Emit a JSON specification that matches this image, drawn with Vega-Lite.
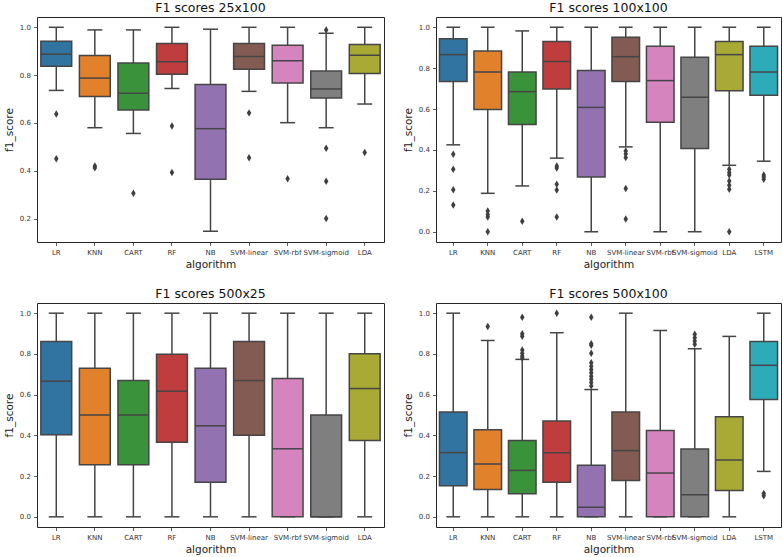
{
  "$schema": "https://vega.github.io/schema/vega-lite/v6.json",
  "background": "white",
  "padding": {"left": 3, "top": 1, "right": 3, "bottom": 3},
  "datasets": {
    "summary": [
      {"panel": "25x100", "algorithm": "LR", "lower": 0.736, "q1": 0.8375, "median": 0.8875, "q3": 0.942, "upper": 1.0},
      {"panel": "25x100", "algorithm": "KNN", "lower": 0.58, "q1": 0.711, "median": 0.7875, "q3": 0.882, "upper": 0.989},
      {"panel": "25x100", "algorithm": "CART", "lower": 0.556, "q1": 0.654, "median": 0.724, "q3": 0.851, "upper": 0.989},
      {"panel": "25x100", "algorithm": "RF", "lower": 0.744, "q1": 0.804, "median": 0.856, "q3": 0.932, "upper": 1.0},
      {"panel": "25x100", "algorithm": "NB", "lower": 0.147, "q1": 0.364, "median": 0.576, "q3": 0.761, "upper": 0.992},
      {"panel": "25x100", "algorithm": "SVM-linear", "lower": 0.732, "q1": 0.824, "median": 0.878, "q3": 0.932, "upper": 1.0},
      {"panel": "25x100", "algorithm": "SVM-rbf", "lower": 0.601, "q1": 0.767, "median": 0.86, "q3": 0.925, "upper": 1.0},
      {"panel": "25x100", "algorithm": "SVM-sigmoid", "lower": 0.58, "q1": 0.704, "median": 0.742, "q3": 0.817, "upper": 0.975},
      {"panel": "25x100", "algorithm": "LDA", "lower": 0.679, "q1": 0.807, "median": 0.883, "q3": 0.928, "upper": 1.0},

      {"panel": "100x100", "algorithm": "LR", "lower": 0.425, "q1": 0.735, "median": 0.866, "q3": 0.944, "upper": 1.0},
      {"panel": "100x100", "algorithm": "KNN", "lower": 0.188, "q1": 0.598, "median": 0.781, "q3": 0.884, "upper": 1.0},
      {"panel": "100x100", "algorithm": "CART", "lower": 0.224, "q1": 0.525, "median": 0.685, "q3": 0.781, "upper": 0.982},
      {"panel": "100x100", "algorithm": "RF", "lower": 0.36, "q1": 0.698, "median": 0.832, "q3": 0.93, "upper": 1.0},
      {"panel": "100x100", "algorithm": "NB", "lower": 0.0, "q1": 0.268, "median": 0.608, "q3": 0.788, "upper": 1.0},
      {"panel": "100x100", "algorithm": "SVM-linear", "lower": 0.415, "q1": 0.735, "median": 0.856, "q3": 0.951, "upper": 1.0},
      {"panel": "100x100", "algorithm": "SVM-rbf", "lower": 0.0, "q1": 0.536, "median": 0.739, "q3": 0.907, "upper": 1.0},
      {"panel": "100x100", "algorithm": "SVM-sigmoid", "lower": 0.0, "q1": 0.407, "median": 0.658, "q3": 0.853, "upper": 1.0},
      {"panel": "100x100", "algorithm": "LDA", "lower": 0.325, "q1": 0.69, "median": 0.866, "q3": 0.93, "upper": 1.0},
      {"panel": "100x100", "algorithm": "LSTM", "lower": 0.345, "q1": 0.667, "median": 0.781, "q3": 0.907, "upper": 1.0},

      {"panel": "500x25", "algorithm": "LR", "lower": 0.0, "q1": 0.403, "median": 0.666, "q3": 0.861, "upper": 1.0},
      {"panel": "500x25", "algorithm": "KNN", "lower": 0.0, "q1": 0.256, "median": 0.5, "q3": 0.729, "upper": 1.0},
      {"panel": "500x25", "algorithm": "CART", "lower": 0.0, "q1": 0.256, "median": 0.5, "q3": 0.669, "upper": 1.0},
      {"panel": "500x25", "algorithm": "RF", "lower": 0.0, "q1": 0.366, "median": 0.617, "q3": 0.798, "upper": 1.0},
      {"panel": "500x25", "algorithm": "NB", "lower": 0.0, "q1": 0.17, "median": 0.447, "q3": 0.729, "upper": 1.0},
      {"panel": "500x25", "algorithm": "SVM-linear", "lower": 0.0, "q1": 0.4, "median": 0.669, "q3": 0.861, "upper": 1.0},
      {"panel": "500x25", "algorithm": "SVM-rbf", "lower": 0.0, "q1": 0.0, "median": 0.334, "q3": 0.679, "upper": 1.0},
      {"panel": "500x25", "algorithm": "SVM-sigmoid", "lower": 0.0, "q1": 0.0, "median": 0.0, "q3": 0.5, "upper": 1.0},
      {"panel": "500x25", "algorithm": "LDA", "lower": 0.0, "q1": 0.375, "median": 0.63, "q3": 0.801, "upper": 1.0},

      {"panel": "500x100", "algorithm": "LR", "lower": 0.0, "q1": 0.153, "median": 0.315, "q3": 0.515, "upper": 1.0},
      {"panel": "500x100", "algorithm": "KNN", "lower": 0.0, "q1": 0.134, "median": 0.259, "q3": 0.427, "upper": 0.866},
      {"panel": "500x100", "algorithm": "CART", "lower": 0.0, "q1": 0.113, "median": 0.228, "q3": 0.375, "upper": 0.773},
      {"panel": "500x100", "algorithm": "RF", "lower": 0.0, "q1": 0.17, "median": 0.315, "q3": 0.47, "upper": 0.904},
      {"panel": "500x100", "algorithm": "NB", "lower": 0.0, "q1": 0.0, "median": 0.047, "q3": 0.253, "upper": 0.625},
      {"panel": "500x100", "algorithm": "SVM-linear", "lower": 0.0, "q1": 0.178, "median": 0.325, "q3": 0.515, "upper": 1.0},
      {"panel": "500x100", "algorithm": "SVM-rbf", "lower": 0.0, "q1": 0.0, "median": 0.215, "q3": 0.424, "upper": 0.915},
      {"panel": "500x100", "algorithm": "SVM-sigmoid", "lower": 0.0, "q1": 0.0, "median": 0.108, "q3": 0.333, "upper": 0.825},
      {"panel": "500x100", "algorithm": "LDA", "lower": 0.0, "q1": 0.129, "median": 0.279, "q3": 0.491, "upper": 0.886},
      {"panel": "500x100", "algorithm": "LSTM", "lower": 0.223, "q1": 0.576, "median": 0.744, "q3": 0.861, "upper": 1.0}
    ],
    "outliers": [
      {"panel": "25x100", "algorithm": "LR", "f1_score": 0.6375},
      {"panel": "25x100", "algorithm": "LR", "f1_score": 0.45},
      {"panel": "25x100", "algorithm": "KNN", "f1_score": 0.42},
      {"panel": "25x100", "algorithm": "KNN", "f1_score": 0.412},
      {"panel": "25x100", "algorithm": "CART", "f1_score": 0.306},
      {"panel": "25x100", "algorithm": "RF", "f1_score": 0.5875},
      {"panel": "25x100", "algorithm": "RF", "f1_score": 0.393},
      {"panel": "25x100", "algorithm": "SVM-linear", "f1_score": 0.642},
      {"panel": "25x100", "algorithm": "SVM-linear", "f1_score": 0.454},
      {"panel": "25x100", "algorithm": "SVM-rbf", "f1_score": 0.367},
      {"panel": "25x100", "algorithm": "SVM-sigmoid", "f1_score": 0.989},
      {"panel": "25x100", "algorithm": "SVM-sigmoid", "f1_score": 0.494},
      {"panel": "25x100", "algorithm": "SVM-sigmoid", "f1_score": 0.356},
      {"panel": "25x100", "algorithm": "SVM-sigmoid", "f1_score": 0.2},
      {"panel": "25x100", "algorithm": "LDA", "f1_score": 0.476},

      {"panel": "100x100", "algorithm": "LR", "f1_score": 0.379},
      {"panel": "100x100", "algorithm": "LR", "f1_score": 0.306},
      {"panel": "100x100", "algorithm": "LR", "f1_score": 0.206},
      {"panel": "100x100", "algorithm": "LR", "f1_score": 0.131},
      {"panel": "100x100", "algorithm": "KNN", "f1_score": 0.101},
      {"panel": "100x100", "algorithm": "KNN", "f1_score": 0.085},
      {"panel": "100x100", "algorithm": "KNN", "f1_score": 0.072},
      {"panel": "100x100", "algorithm": "KNN", "f1_score": 0.0},
      {"panel": "100x100", "algorithm": "CART", "f1_score": 0.052},
      {"panel": "100x100", "algorithm": "RF", "f1_score": 0.322},
      {"panel": "100x100", "algorithm": "RF", "f1_score": 0.312},
      {"panel": "100x100", "algorithm": "RF", "f1_score": 0.232},
      {"panel": "100x100", "algorithm": "RF", "f1_score": 0.204},
      {"panel": "100x100", "algorithm": "RF", "f1_score": 0.072},
      {"panel": "100x100", "algorithm": "SVM-linear", "f1_score": 0.395},
      {"panel": "100x100", "algorithm": "SVM-linear", "f1_score": 0.38},
      {"panel": "100x100", "algorithm": "SVM-linear", "f1_score": 0.363},
      {"panel": "100x100", "algorithm": "SVM-linear", "f1_score": 0.211},
      {"panel": "100x100", "algorithm": "SVM-linear", "f1_score": 0.062},
      {"panel": "100x100", "algorithm": "LDA", "f1_score": 0.306},
      {"panel": "100x100", "algorithm": "LDA", "f1_score": 0.29},
      {"panel": "100x100", "algorithm": "LDA", "f1_score": 0.278},
      {"panel": "100x100", "algorithm": "LDA", "f1_score": 0.248},
      {"panel": "100x100", "algorithm": "LDA", "f1_score": 0.227},
      {"panel": "100x100", "algorithm": "LDA", "f1_score": 0.208},
      {"panel": "100x100", "algorithm": "LDA", "f1_score": 0.0},
      {"panel": "100x100", "algorithm": "LSTM", "f1_score": 0.278},
      {"panel": "100x100", "algorithm": "LSTM", "f1_score": 0.268},
      {"panel": "100x100", "algorithm": "LSTM", "f1_score": 0.257},

      {"panel": "500x100", "algorithm": "KNN", "f1_score": 0.935},
      {"panel": "500x100", "algorithm": "CART", "f1_score": 0.98},
      {"panel": "500x100", "algorithm": "CART", "f1_score": 0.899},
      {"panel": "500x100", "algorithm": "CART", "f1_score": 0.887},
      {"panel": "500x100", "algorithm": "CART", "f1_score": 0.819},
      {"panel": "500x100", "algorithm": "CART", "f1_score": 0.803},
      {"panel": "500x100", "algorithm": "CART", "f1_score": 0.79},
      {"panel": "500x100", "algorithm": "CART", "f1_score": 0.78},
      {"panel": "500x100", "algorithm": "RF", "f1_score": 1.0},
      {"panel": "500x100", "algorithm": "NB", "f1_score": 0.98},
      {"panel": "500x100", "algorithm": "NB", "f1_score": 0.85},
      {"panel": "500x100", "algorithm": "NB", "f1_score": 0.842},
      {"panel": "500x100", "algorithm": "NB", "f1_score": 0.803},
      {"panel": "500x100", "algorithm": "NB", "f1_score": 0.757},
      {"panel": "500x100", "algorithm": "NB", "f1_score": 0.74},
      {"panel": "500x100", "algorithm": "NB", "f1_score": 0.724},
      {"panel": "500x100", "algorithm": "NB", "f1_score": 0.708},
      {"panel": "500x100", "algorithm": "NB", "f1_score": 0.69},
      {"panel": "500x100", "algorithm": "NB", "f1_score": 0.675},
      {"panel": "500x100", "algorithm": "NB", "f1_score": 0.659},
      {"panel": "500x100", "algorithm": "NB", "f1_score": 0.643},
      {"panel": "500x100", "algorithm": "SVM-sigmoid", "f1_score": 0.896},
      {"panel": "500x100", "algorithm": "SVM-sigmoid", "f1_score": 0.879},
      {"panel": "500x100", "algorithm": "SVM-sigmoid", "f1_score": 0.863},
      {"panel": "500x100", "algorithm": "SVM-sigmoid", "f1_score": 0.847},
      {"panel": "500x100", "algorithm": "LSTM", "f1_score": 0.114},
      {"panel": "500x100", "algorithm": "LSTM", "f1_score": 0.104}
    ]
  },
  "columns": 2,
  "bounds": "flush",
  "spacing": {"row": 61, "column": 52},
  "concat": [
    {
      "title": "F1 scores 25x100",
      "width": 347, "height": 225,
      "layer": [
        {"data": {"name": "summary"}, "transform": [{"filter": "datum.panel == '25x100'"}],
         "mark": {"type": "rule", "color": "#454545", "strokeWidth": 1.5},
         "encoding": {
           "x": {"field": "algorithm", "type": "nominal", "title": "algorithm", "scale": {"domain": ["LR","KNN","CART","RF","NB","SVM-linear","SVM-rbf","SVM-sigmoid","LDA"], "paddingInner": 0.2, "paddingOuter": 0.1}},
           "y": {"field": "lower", "type": "quantitative", "title": "f1_score", "scale": {"domain": [0.102, 1.043], "nice": false, "zero": false}, "axis": {"values": [0.2,0.4,0.6,0.8,1.0], "format": ".1f"}},
           "y2": {"field": "upper"}}},
        {"data": {"name": "summary"}, "transform": [{"filter": "datum.panel == '25x100'"}],
         "mark": {"type": "bar", "stroke": "#454545", "strokeWidth": 1.5},
         "encoding": {
           "x": {"field": "algorithm", "type": "nominal"},
           "y": {"field": "q1", "type": "quantitative", "title": "f1_score"},
           "y2": {"field": "q3"},
           "color": {"field": "algorithm", "type": "nominal", "legend": null, "scale": {"domain": ["LR","KNN","CART","RF","NB","SVM-linear","SVM-rbf","SVM-sigmoid","LDA","LSTM"], "range": ["#3274a1","#e1812c","#3a923a","#c03d3e","#9372b2","#845b53","#d684bd","#7f7f7f","#a9aa35","#2eabb8"]}}}},
        {"data": {"name": "summary"}, "transform": [{"filter": "datum.panel == '25x100'"}],
         "mark": {"type": "tick", "color": "#454545", "thickness": 1.5, "size": 30.8, "opacity": 1},
         "encoding": {"x": {"field": "algorithm", "type": "nominal"}, "y": {"field": "median", "type": "quantitative", "title": "f1_score"}}},
        {"data": {"name": "summary"}, "transform": [{"filter": "datum.panel == '25x100'"}],
         "mark": {"type": "tick", "color": "#454545", "thickness": 1.5, "size": 15, "opacity": 1},
         "encoding": {"x": {"field": "algorithm", "type": "nominal"}, "y": {"field": "lower", "type": "quantitative", "title": "f1_score"}}},
        {"data": {"name": "summary"}, "transform": [{"filter": "datum.panel == '25x100'"}],
         "mark": {"type": "tick", "color": "#454545", "thickness": 1.5, "size": 15, "opacity": 1},
         "encoding": {"x": {"field": "algorithm", "type": "nominal"}, "y": {"field": "upper", "type": "quantitative", "title": "f1_score"}}},
        {"data": {"name": "outliers"}, "transform": [{"filter": "datum.panel == '25x100'"}],
         "mark": {"type": "point", "filled": true, "color": "#3f3f3f", "opacity": 1, "size": 56, "shape": "M0,-1L0.6,0L0,1L-0.6,0Z"},
         "encoding": {"x": {"field": "algorithm", "type": "nominal"}, "y": {"field": "f1_score", "type": "quantitative", "title": "f1_score"}}}
      ]
    },
    {
      "title": "F1 scores 100x100",
      "width": 345, "height": 225,
      "layer": [
        {"data": {"name": "summary"}, "transform": [{"filter": "datum.panel == '100x100'"}],
         "mark": {"type": "rule", "color": "#454545", "strokeWidth": 1.5},
         "encoding": {
           "x": {"field": "algorithm", "type": "nominal", "title": "algorithm", "scale": {"domain": ["LR","KNN","CART","RF","NB","SVM-linear","SVM-rbf","SVM-sigmoid","LDA","LSTM"], "paddingInner": 0.2, "paddingOuter": 0.1}},
           "y": {"field": "lower", "type": "quantitative", "title": "f1_score", "scale": {"domain": [-0.05, 1.05], "nice": false, "zero": false}, "axis": {"values": [0,0.2,0.4,0.6,0.8,1.0], "format": ".1f"}},
           "y2": {"field": "upper"}}},
        {"data": {"name": "summary"}, "transform": [{"filter": "datum.panel == '100x100'"}],
         "mark": {"type": "bar", "stroke": "#454545", "strokeWidth": 1.5},
         "encoding": {
           "x": {"field": "algorithm", "type": "nominal"},
           "y": {"field": "q1", "type": "quantitative", "title": "f1_score"},
           "y2": {"field": "q3"},
           "color": {"field": "algorithm", "type": "nominal", "legend": null}}},
        {"data": {"name": "summary"}, "transform": [{"filter": "datum.panel == '100x100'"}],
         "mark": {"type": "tick", "color": "#454545", "thickness": 1.5, "size": 27.6, "opacity": 1},
         "encoding": {"x": {"field": "algorithm", "type": "nominal"}, "y": {"field": "median", "type": "quantitative", "title": "f1_score"}}},
        {"data": {"name": "summary"}, "transform": [{"filter": "datum.panel == '100x100'"}],
         "mark": {"type": "tick", "color": "#454545", "thickness": 1.5, "size": 13.8, "opacity": 1},
         "encoding": {"x": {"field": "algorithm", "type": "nominal"}, "y": {"field": "lower", "type": "quantitative", "title": "f1_score"}}},
        {"data": {"name": "summary"}, "transform": [{"filter": "datum.panel == '100x100'"}],
         "mark": {"type": "tick", "color": "#454545", "thickness": 1.5, "size": 13.8, "opacity": 1},
         "encoding": {"x": {"field": "algorithm", "type": "nominal"}, "y": {"field": "upper", "type": "quantitative", "title": "f1_score"}}},
        {"data": {"name": "outliers"}, "transform": [{"filter": "datum.panel == '100x100'"}],
         "mark": {"type": "point", "filled": true, "color": "#3f3f3f", "opacity": 1, "size": 56, "shape": "M0,-1L0.6,0L0,1L-0.6,0Z"},
         "encoding": {"x": {"field": "algorithm", "type": "nominal"}, "y": {"field": "f1_score", "type": "quantitative", "title": "f1_score"}}}
      ]
    },
    {
      "title": "F1 scores 500x25",
      "width": 347, "height": 224,
      "layer": [
        {"data": {"name": "summary"}, "transform": [{"filter": "datum.panel == '500x25'"}],
         "mark": {"type": "rule", "color": "#454545", "strokeWidth": 1.5},
         "encoding": {
           "x": {"field": "algorithm", "type": "nominal", "title": "algorithm", "scale": {"domain": ["LR","KNN","CART","RF","NB","SVM-linear","SVM-rbf","SVM-sigmoid","LDA"], "paddingInner": 0.2, "paddingOuter": 0.1}},
           "y": {"field": "lower", "type": "quantitative", "title": "f1_score", "scale": {"domain": [-0.05, 1.05], "nice": false, "zero": false}, "axis": {"values": [0,0.2,0.4,0.6,0.8,1.0], "format": ".1f"}},
           "y2": {"field": "upper"}}},
        {"data": {"name": "summary"}, "transform": [{"filter": "datum.panel == '500x25'"}],
         "mark": {"type": "bar", "stroke": "#454545", "strokeWidth": 1.5},
         "encoding": {
           "x": {"field": "algorithm", "type": "nominal"},
           "y": {"field": "q1", "type": "quantitative", "title": "f1_score"},
           "y2": {"field": "q3"},
           "color": {"field": "algorithm", "type": "nominal", "legend": null}}},
        {"data": {"name": "summary"}, "transform": [{"filter": "datum.panel == '500x25'"}],
         "mark": {"type": "tick", "color": "#454545", "thickness": 1.5, "size": 30.8, "opacity": 1},
         "encoding": {"x": {"field": "algorithm", "type": "nominal"}, "y": {"field": "median", "type": "quantitative", "title": "f1_score"}}},
        {"data": {"name": "summary"}, "transform": [{"filter": "datum.panel == '500x25'"}],
         "mark": {"type": "tick", "color": "#454545", "thickness": 1.5, "size": 15, "opacity": 1},
         "encoding": {"x": {"field": "algorithm", "type": "nominal"}, "y": {"field": "lower", "type": "quantitative", "title": "f1_score"}}},
        {"data": {"name": "summary"}, "transform": [{"filter": "datum.panel == '500x25'"}],
         "mark": {"type": "tick", "color": "#454545", "thickness": 1.5, "size": 15, "opacity": 1},
         "encoding": {"x": {"field": "algorithm", "type": "nominal"}, "y": {"field": "upper", "type": "quantitative", "title": "f1_score"}}}
      ]
    },
    {
      "title": "F1 scores 500x100",
      "width": 345, "height": 224,
      "layer": [
        {"data": {"name": "summary"}, "transform": [{"filter": "datum.panel == '500x100'"}],
         "mark": {"type": "rule", "color": "#454545", "strokeWidth": 1.5},
         "encoding": {
           "x": {"field": "algorithm", "type": "nominal", "title": "algorithm", "scale": {"domain": ["LR","KNN","CART","RF","NB","SVM-linear","SVM-rbf","SVM-sigmoid","LDA","LSTM"], "paddingInner": 0.2, "paddingOuter": 0.1}},
           "y": {"field": "lower", "type": "quantitative", "title": "f1_score", "scale": {"domain": [-0.05, 1.05], "nice": false, "zero": false}, "axis": {"values": [0,0.2,0.4,0.6,0.8,1.0], "format": ".1f"}},
           "y2": {"field": "upper"}}},
        {"data": {"name": "summary"}, "transform": [{"filter": "datum.panel == '500x100'"}],
         "mark": {"type": "bar", "stroke": "#454545", "strokeWidth": 1.5},
         "encoding": {
           "x": {"field": "algorithm", "type": "nominal"},
           "y": {"field": "q1", "type": "quantitative", "title": "f1_score"},
           "y2": {"field": "q3"},
           "color": {"field": "algorithm", "type": "nominal", "legend": null}}},
        {"data": {"name": "summary"}, "transform": [{"filter": "datum.panel == '500x100'"}],
         "mark": {"type": "tick", "color": "#454545", "thickness": 1.5, "size": 27.6, "opacity": 1},
         "encoding": {"x": {"field": "algorithm", "type": "nominal"}, "y": {"field": "median", "type": "quantitative", "title": "f1_score"}}},
        {"data": {"name": "summary"}, "transform": [{"filter": "datum.panel == '500x100'"}],
         "mark": {"type": "tick", "color": "#454545", "thickness": 1.5, "size": 13.8, "opacity": 1},
         "encoding": {"x": {"field": "algorithm", "type": "nominal"}, "y": {"field": "lower", "type": "quantitative", "title": "f1_score"}}},
        {"data": {"name": "summary"}, "transform": [{"filter": "datum.panel == '500x100'"}],
         "mark": {"type": "tick", "color": "#454545", "thickness": 1.5, "size": 13.8, "opacity": 1},
         "encoding": {"x": {"field": "algorithm", "type": "nominal"}, "y": {"field": "upper", "type": "quantitative", "title": "f1_score"}}},
        {"data": {"name": "outliers"}, "transform": [{"filter": "datum.panel == '500x100'"}],
         "mark": {"type": "point", "filled": true, "color": "#3f3f3f", "opacity": 1, "size": 56, "shape": "M0,-1L0.6,0L0,1L-0.6,0Z"},
         "encoding": {"x": {"field": "algorithm", "type": "nominal"}, "y": {"field": "f1_score", "type": "quantitative", "title": "f1_score"}}}
      ]
    }
  ],
  "config": {
    "font": "DejaVu Sans",
    "view": {"stroke": "#262626", "strokeWidth": 1},
    "title": {"fontSize": 12.5, "fontWeight": "normal", "font": "DejaVu Sans", "color": "#111", "offset": 3},
    "axis": {
      "grid": false, "domain": false, "ticks": true, "tickSize": 3.5, "tickColor": "#333", "tickWidth": 0.8,
      "labelFont": "DejaVu Sans", "labelFontSize": 7, "labelColor": "#333", "labelPadding": 3,
      "titleFont": "DejaVu Sans", "titleFontSize": 10.5, "titleFontWeight": "normal", "titleColor": "#222"
    },
    "axisX": {"labelAngle": 0, "titlePadding": 4},
    "axisY": {"titlePadding": 5}
  }
}
